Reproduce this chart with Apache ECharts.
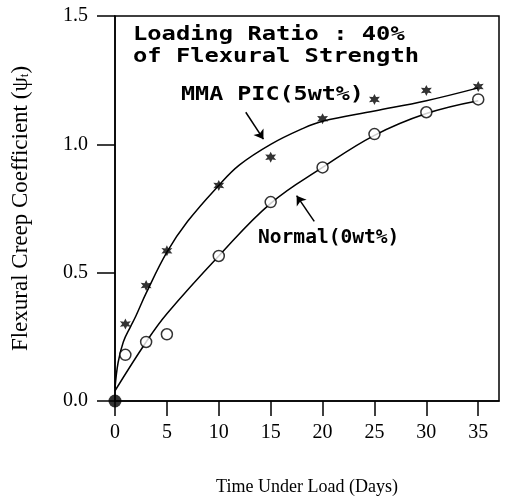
<!DOCTYPE html>
<html><head><meta charset="utf-8">
<script src="https://cdn.jsdelivr.net/npm/echarts@6/dist/echarts.min.js"></script>
<style>html,body{margin:0;padding:0;background:#fff}#c{width:507px;height:502px}</style>
</head><body><div id="c"></div>
<script>
// Measured points
const mmaDays = [1, 3, 5, 10, 15, 20, 25, 30, 35];
const mmaValues = [0.30, 0.45, 0.585, 0.84, 0.95, 1.10, 1.175, 1.21, 1.225];
const normalDays = [1, 3, 5, 10, 15, 20, 25, 30, 35];
const normalValues = [0.18, 0.23, 0.26, 0.565, 0.775, 0.91, 1.04, 1.125, 1.175];
const originPoint = [[0, 0]];
// Fitted curves
const mmaCurveDays = [0, 0.3, 0.8, 1.5, 2, 3, 5, 7, 10, 12, 15, 18, 20, 25, 30, 35];
const mmaCurveValues = [0.05, 0.15, 0.23, 0.29, 0.33, 0.42, 0.58, 0.70, 0.84, 0.92, 1.00, 1.06, 1.09, 1.13, 1.17, 1.22];
const normalCurveDays = [0, 3, 5, 10, 15, 20, 25, 30, 35];
const normalCurveValues = [0.04, 0.23, 0.34, 0.565, 0.77, 0.91, 1.035, 1.12, 1.17];
const xTicks = [0, 5, 10, 15, 20, 25, 30, 35];

const zip = (a, b) => a.map((v, i) => [v, b[i]]);
const starPath = 'path://M0,-10 L2.5,-4.3 L8.7,-5 L5,0 L8.7,5 L2.5,4.3 L0,10 L-2.5,4.3 L-8.7,5 L-5,0 L-8.7,-5 L-2.5,-4.3 Z';
const serif = '"Liberation Serif", "DejaVu Serif", serif';
const mono = '"DejaVu Sans Mono", "Liberation Mono", monospace';

const chart = echarts.init(document.getElementById('c'));
chart.setOption({
  animation: false,
  backgroundColor: '#fff',
  grid: {left: 115, right: 8, top: 16, bottom: 101, show: true, borderColor: '#000', borderWidth: 1.5},
  xAxis: {
    type: 'value', min: 0, max: 37, interval: 5,
    name: 'Time Under Load (Days)', nameLocation: 'middle', nameGap: 77,
    nameTextStyle: {fontFamily: serif, fontSize: 18, color: '#000'},
    axisLine: {show: true, onZero: false, lineStyle: {color: '#000', width: 1.5}},
    axisTick: {show: true, inside: false, length: 15, lineStyle: {color: '#000', width: 1.5},
      customValues: xTicks},
    axisLabel: {show: true, fontFamily: serif, fontSize: 20, color: '#000', margin: 22,
      customValues: xTicks, formatter: v => String(v)},
    splitLine: {show: false}
  },
  yAxis: {
    type: 'value', min: 0, max: 1.5, interval: 0.5,
    name: 'Flexural Creep Coefficient (ψ{s|t})', nameLocation: 'middle', nameGap: 83,
    nameTextStyle: {fontFamily: serif, fontSize: 23, color: '#000',
      rich: {s: {fontFamily: serif, fontSize: 13, color: '#000', padding: [9, 0, 0, 0]}}},
    axisLine: {show: true, onZero: false, lineStyle: {color: '#000', width: 1.5}},
    axisTick: {show: true, inside: false, length: 18, lineStyle: {color: '#000', width: 1.5}},
    axisLabel: {show: true, fontFamily: serif, fontSize: 20, color: '#000', margin: 27,
      formatter: v => v.toFixed(1)},
    splitLine: {show: false}
  },
  series: [
    {type: 'line', data: zip(mmaCurveDays, mmaCurveValues), smooth: 0.4, showSymbol: false,
      lineStyle: {color: '#000', width: 1.5}, z: 2,
      markLine: {silent: true, symbol: ['none', 'arrow'], symbolSize: 9, label: {show: false},
        lineStyle: {color: '#000', width: 1.5, type: 'solid'},
        data: [
          [{coord: [12.6, 1.125]}, {coord: [14.3, 1.02]}],
          [{coord: [19.2, 0.70]}, {coord: [17.5, 0.80]}]
        ]}},
    {type: 'line', data: zip(normalCurveDays, normalCurveValues), smooth: 0.4, showSymbol: false,
      lineStyle: {color: '#000', width: 1.5}, z: 2},
    {type: 'scatter', data: zip(mmaDays, mmaValues), symbol: starPath, symbolSize: 11,
      itemStyle: {color: '#000'}, z: 3},
    {type: 'scatter', data: zip(normalDays, normalValues), symbol: 'circle', symbolSize: 11,
      itemStyle: {color: '#fff', borderColor: '#000', borderWidth: 1.5}, z: 3},
    {type: 'scatter', data: originPoint, symbol: 'circle', symbolSize: 13,
      itemStyle: {color: '#000'}, z: 4, clip: false}
  ],
  graphic: [
    {type: 'text', x: 133, y: 26, scaleX: 1.25, z: 10, style: {text: 'Loading Ratio : 40%', font: 'bold 19px ' + mono, fill: '#000', verticalAlign: 'top'}},
    {type: 'text', x: 133, y: 48, scaleX: 1.25, z: 10, style: {text: 'of Flexural Strength', font: 'bold 19px ' + mono, fill: '#000', verticalAlign: 'top'}},
    {type: 'text', x: 181, y: 86, scaleX: 1.23, z: 10, style: {text: 'MMA PIC(5wt%)', font: 'bold 19px ' + mono, fill: '#000', verticalAlign: 'top'}},
    {type: 'text', x: 258, y: 229, scaleX: 1.03, z: 10, style: {text: 'Normal(0wt%)', font: 'bold 19px ' + mono, fill: '#000', verticalAlign: 'top'}}
  ]
});
</script></body></html>
